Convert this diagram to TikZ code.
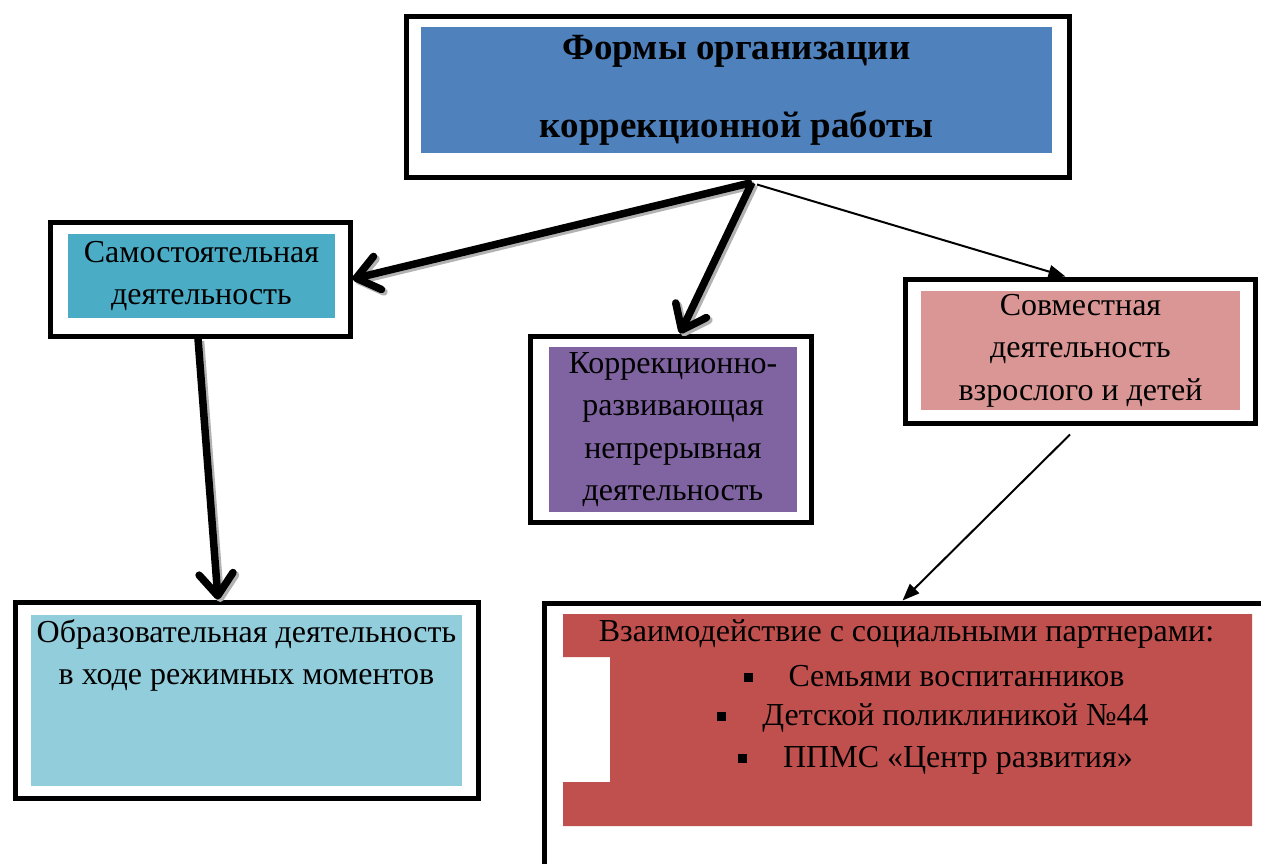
\documentclass[tikz,border=0pt]{standalone}
\usepackage{fontspec}
\setmainfont{Liberation Serif}
\usetikzlibrary{arrows.meta,calc}
\definecolor{cblue}{HTML}{4F81BD}
\definecolor{cteal}{HTML}{4BACC6}
\definecolor{cpurple}{HTML}{8064A2}
\definecolor{cpink}{HTML}{D99694}
\definecolor{clight}{HTML}{92CDDC}
\definecolor{cred}{HTML}{C0504D}
\newcommand{\bulsq}{\rule[4.5pt]{9pt}{9pt}\hspace{36pt}}
\tikzset{
  frame/.style={draw=black, line width=5pt, inner sep=0pt},
  fillbox/.style={inner sep=0pt, text=black, align=center},
  txt/.style={font=\fontsize{32}{42.5}\selectfont, align=center, inner sep=0pt},
  thickarr/.style={line width=7.5pt, -{Straight Barb[round,length=22pt,width=34pt]},
    preaction={draw=gray!60, line width=7.5pt, transform canvas={shift={(2.5,2.5)}}}},
  thinarr/.style={line width=2pt, -{Triangle[length=17pt,width=13pt]}}
}
\begin{document}
\begin{tikzpicture}[x=1pt,y=-1pt]
\useasboundingbox (0,0) rectangle (1261,863);
\clip (0,0) rectangle (1261,863);
\fill[white] (0,0) rectangle (1261,863);

% top box
\node[frame, minimum width=663pt, minimum height=161pt] (top) at (737.5,96.5) {};
\node[fillbox, fill=cblue, minimum width=631pt, minimum height=126pt,
  font=\fontsize{37}{78}\selectfont\bfseries] (title) at (736.5,90)
  {Формы организации\\коррекционной работы};

% left box
\node[frame, minimum width=300pt, minimum height=114pt] (left) at (200,279) {};
\node[fillbox, fill=cteal, minimum width=267pt, minimum height=84pt,
  font=\fontsize{32}{42.5}\selectfont] (lefttext) at (201.5,276)
  {Самостоятельная\\деятельность};

% middle box
\node[frame, minimum width=281pt, minimum height=186pt] (mid) at (671,429) {};
\node[fillbox, fill=cpurple, minimum width=248pt, minimum height=165pt,
  font=\fontsize{32}{42.5}\selectfont] (midtext) at (673,429.5)
  {Коррекционно-\\развивающая\\непрерывная\\деятельность};

% right box
\node[frame, minimum width=350pt, minimum height=144pt] (right) at (1080.5,351) {};
\node[fillbox, fill=cpink, minimum width=319pt, minimum height=119pt,
  font=\fontsize{32}{42.5}\selectfont] (righttext) at (1080.5,350.5)
  {Совместная\\деятельность\\взрослого и детей};

% bottom left box
\node[frame, minimum width=463pt, minimum height=196pt] (bl) at (247,700) {};
\node[fillbox, fill=clight, minimum width=431pt, minimum height=171pt] (blfill) at (246.5,700.5) {};
\node[txt] (bltext) at (246.5,655.5) {Образовательная деятельность\\в ходе режимных моментов};

% bottom right box (cut off by the page edge)
\node[frame, minimum width=756pt, minimum height=297pt] (br) at (922,751.5) {};
\fill[cred] (563,614) -- (1252,614) -- (1252,826) -- (563,826) -- (563,782)
  -- (610,782) -- (610,657) -- (563,657) -- cycle;
\node[txt] (brhead) at (906.5,634) {Взаимодействие с социальными партнерами:};
\node[txt] (br1) at (934,676) {\bulsq Семьями воспитанников};
\node[txt] (br2) at (933,718) {\bulsq Детской поликлиникой №44};
\node[txt] (br3) at (935.5,760) {\bulsq ППМС «Центр развития»};

% connectors
\coordinate (s1) at ($(top.south)+(14.5,3)$);
\coordinate (s2) at ($(top.south)+(19.5,5)$);
\coordinate (s5) at ($(right.south)+(-10.5,9)$);
\draw[thickarr] (s1) -- (left.east);
\draw[thickarr] (s1) -- ($(mid.north)+(9,0)$);
\draw[thinarr] (s2) -- ($(right.north)+(-15,0)$);
\draw[thickarr] ($(left.south)+(-2,0)$) -- ($(bl.north)+(-29,0)$);
\draw[thinarr] (s5) -- ($(br.north west)+(361,0)$);
\end{tikzpicture}
\end{document}
